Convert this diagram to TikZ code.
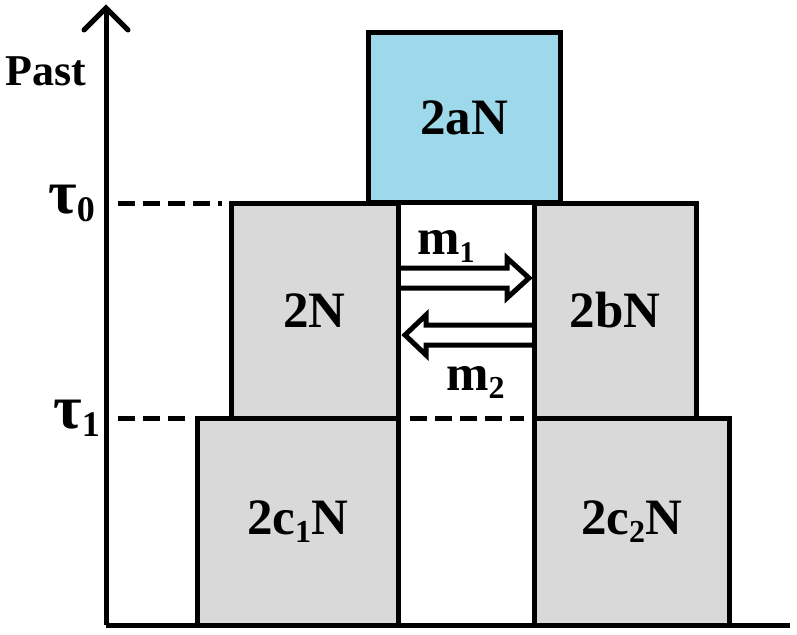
\documentclass[tikz,border=0pt]{standalone}
\usepackage{fontspec}
\setmainfont{Liberation Serif}
\usetikzlibrary{calc}
\definecolor{boxgray}{HTML}{D9D9D9}
\definecolor{boxblue}{HTML}{9DD9EA}
\newcommand{\mysub}[2][32]{\raisebox{-8pt}{\fontsize{#1}{#1}\selectfont #2}}
\begin{document}
\begin{tikzpicture}[x=1pt,y=-1pt,
  popbox/.style={draw=black, line width=5pt, inner sep=0pt, outer sep=0pt, anchor=north west,
    font=\fontsize{51}{60}\selectfont\bfseries},
  grayfill/.style={fill=boxgray},
  bluefill/.style={fill=boxblue},
  axisline/.style={line width=5pt},
  dashline/.style={line width=5pt, dash pattern=on 17pt off 8pt},
  migarrow/.style={line width=5pt, line join=miter},
  lbl/.style={inner sep=0pt, anchor=base west, font=\bfseries}]
\fill[white] (0,0) rectangle (797,634);
% axes
\coordinate (origin) at (106,625);
\coordinate (top) at (106,8);
\coordinate (xend) at (790,625);
\draw[axisline] (origin) -- (top);
\draw[axisline, line cap=round, line join=miter] ($(top)+(-22,22)$) -- (top) -- ($(top)+(22,22)$);
% dashed levels
\coordinate (t0a) at (118,203);
\coordinate (t0b) at (222,203);
\coordinate (t1a) at (118,418);
\coordinate (t1b) at (188,418);
\coordinate (t1c) at (410,418);
\coordinate (t1d) at (524,418);
\draw[dashline] (t0a) -- (t0b);
\draw[dashline] (t1a) -- (t1b);
\draw[dashline] (t1c) -- (t1d);
% boxes
\node[popbox, bluefill, minimum width=192pt, minimum height=169pt] (na) at (368,33) {2aN};
\node[popbox, grayfill, minimum width=167pt, minimum height=215pt] (n2) at (231,203) {2N};
\node[popbox, grayfill, minimum width=162pt, minimum height=215pt] (nb) at (534,203) {2bN};
\node[popbox, grayfill, minimum width=201pt, minimum height=207pt] (nc1) at (197,418) {2c\mysub{1}N};
\node[popbox, grayfill, minimum width=195pt, minimum height=207pt] (nc2) at (534,418) {2c\mysub{2}N};
\draw[axisline] (origin) -- (xend);
% migration arrows
\coordinate (a1s) at (n2.east |- 0,278);
\coordinate (a1e) at (529,278);
\coordinate (a2s) at (nb.west |- 0,335);
\coordinate (a2e) at (405,335);
\draw[migarrow] ($(a1s)+(0,-10)$) -- ($(a1e)+(-22,-10)$) -- ($(a1e)+(-22,-20)$) -- (a1e)
  -- ($(a1e)+(-22,20)$) -- ($(a1e)+(-22,10)$) -- ($(a1s)+(0,10)$);
\draw[migarrow] ($(a2s)+(0,-10)$) -- ($(a2e)+(21,-10)$) -- ($(a2e)+(21,-20)$) -- (a2e)
  -- ($(a2e)+(21,20)$) -- ($(a2e)+(21,10)$) -- ($(a2s)+(0,10)$);
% labels
\node[lbl, font=\fontsize{44}{50}\selectfont\bfseries] (past) at (5,85) {Past};
\node[lbl, font=\fontsize{62}{70}\selectfont\bfseries] (tau0) at (48,213) {τ\mysub[36]{0}};
\node[lbl, font=\fontsize{62}{70}\selectfont\bfseries] (tau1) at (53,428) {τ\mysub[36]{1}};
\node[lbl, font=\fontsize{51}{60}\selectfont\bfseries] (m1) at (417,254) {m\mysub[30]{1}};
\node[lbl, font=\fontsize{51}{60}\selectfont\bfseries] (m2) at (446,390) {m\mysub[32]{2}};
\end{tikzpicture}
\end{document}
